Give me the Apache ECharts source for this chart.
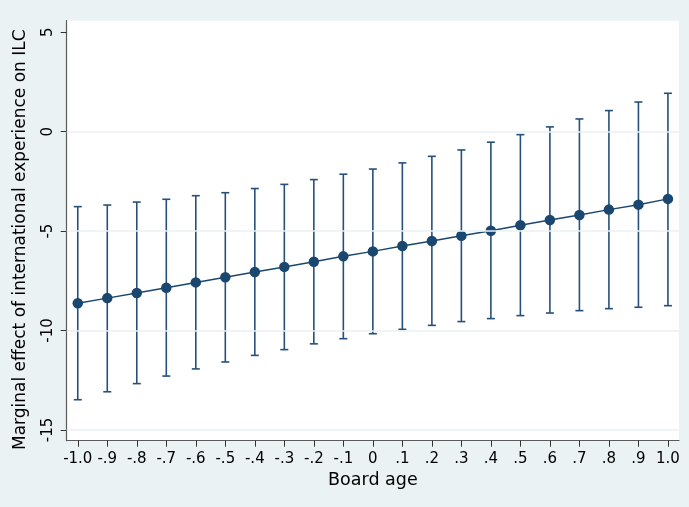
<!DOCTYPE html>
<html>
<head>
<meta charset="utf-8">
<script src="https://cdn.jsdelivr.net/npm/echarts@6/dist/echarts.min.js"></script>
<style>
html,body{margin:0;padding:0;background:#EAF2F3;}
#chart{width:689px;height:507px;}
</style>
</head>
<body>
<div id="chart"></div>
<script>
// Board age values (x)
const boardAge = [-1.0,-0.9,-0.8,-0.7,-0.6,-0.5,-0.4,-0.3,-0.2,-0.1,0.0,0.1,0.2,0.3,0.4,0.5,0.6,0.7,0.8,0.9,1.0];
// Marginal effect (point estimates)
const effect = [-8.63,-8.37,-8.11,-7.85,-7.58,-7.32,-7.06,-6.80,-6.54,-6.27,-6.02,-5.75,-5.50,-5.23,-4.98,-4.71,-4.44,-4.19,-3.92,-3.67,-3.38];
// Confidence interval bounds
const upper = [-3.77,-3.69,-3.54,-3.40,-3.22,-3.07,-2.86,-2.65,-2.41,-2.14,-1.88,-1.57,-1.24,-0.92,-0.53,-0.15,0.24,0.64,1.06,1.49,1.93];
const lower = [-13.48,-13.08,-12.67,-12.29,-11.93,-11.58,-11.25,-10.96,-10.67,-10.41,-10.16,-9.94,-9.74,-9.55,-9.40,-9.25,-9.12,-9.00,-8.90,-8.83,-8.75];
// Tick values and labels
const xTicks = [-1.0,-0.9,-0.8,-0.7,-0.6,-0.5,-0.4,-0.3,-0.2,-0.1,0.0,0.1,0.2,0.3,0.4,0.5,0.6,0.7,0.8,0.9,1.0];
const xTickLabels = ["-1.0","-.9","-.8","-.7","-.6","-.5","-.4","-.3","-.2","-.1","0",".1",".2",".3",".4",".5",".6",".7",".8",".9","1.0"];
const yTicks = [-15,-10,-5,0,5];
const yGridLines = [-15,-10,-5,0];
const xTitle = "Board age";
const yTitle = "Marginal effect of international experience on ILC";

const navy = '#1a476f';
const font = 'DejaVu Sans';

const chart = echarts.init(document.getElementById('chart'), null, {renderer:'canvas'});

function xLabel(v){
  let best = 0, bd = Infinity;
  xTicks.forEach((t,i)=>{ const d=Math.abs(t-v); if(d<bd){bd=d;best=i;} });
  return xTickLabels[best];
}

const pointData = boardAge.map((x,i)=>[x, effect[i]]);
const ciData = boardAge.map((x,i)=>[x, lower[i], upper[i]]);

chart.setOption({
  backgroundColor:'#EAF2F3',
  animation:false,
  grid:{left:66.7, right:10, top:20.7, bottom:66.3, show:true, backgroundColor:'#ffffff', borderWidth:0},
  xAxis:{
    type:'value', min:-1.0375, max:1.0375,
    name:xTitle, nameLocation:'middle', nameGap:31,
    nameTextStyle:{fontFamily:font, fontSize:17.5, color:'#000'},
    axisLine:{show:true, onZero:false, lineStyle:{color:'#5a5a5a', width:1.2}},
    axisTick:{show:true, length:6, customValues:xTicks, lineStyle:{color:'#333', width:1}},
    axisLabel:{customValues:xTicks, formatter:xLabel, margin:11, fontFamily:font, fontSize:15, color:'#000'},
    splitLine:{show:false}
  },
  yAxis:{
    type:'value', min:-15.54, max:5.58,
    name:yTitle, nameLocation:'middle', nameGap:38, nameRotate:90,
    nameTextStyle:{fontFamily:font, fontSize:17, color:'#000', padding:[0,18,0,0]},
    axisLine:{show:true, onZero:false, lineStyle:{color:'#5a5a5a', width:1.2}},
    axisTick:{show:true, length:6, customValues:yTicks, lineStyle:{color:'#333', width:1}},
    axisLabel:{customValues:yTicks, rotate:90, margin:11, fontFamily:font, fontSize:15, color:'#000'},
    splitLine:{show:false}
  },
  series:[
    {
      type:'line', data:[], z:1, silent:true,
      markLine:{
        silent:true, symbol:'none', label:{show:false},
        lineStyle:{color:'#EAF2F3', type:'solid', width:1.5},
        data: yGridLines.map(v=>({yAxis:v}))
      }
    },
    {
      type:'custom', z:3, silent:true,
      data:ciData,
      encode:{x:0, y:[1,2]},
      renderItem:function(params, api){
        const x = api.value(0);
        const lo = api.coord([x, api.value(1)]);
        const hi = api.coord([x, api.value(2)]);
        const hw = 4;
        const style = {stroke:'#26507a', lineWidth:1.6, fill:null};
        return {type:'group', children:[
          {type:'line', shape:{x1:lo[0], y1:lo[1], x2:hi[0], y2:hi[1]}, style:style},
          {type:'line', shape:{x1:lo[0]-hw, y1:lo[1], x2:lo[0]+hw, y2:lo[1]}, style:style},
          {type:'line', shape:{x1:hi[0]-hw, y1:hi[1], x2:hi[0]+hw, y2:hi[1]}, style:style}
        ]};
      }
    },
    {
      type:'line', z:4, data:pointData,
      symbol:'circle', symbolSize:10.5, showSymbol:true,
      lineStyle:{color:navy, width:1.5},
      itemStyle:{color:navy}
    }
  ]
});
</script>
</body>
</html>
